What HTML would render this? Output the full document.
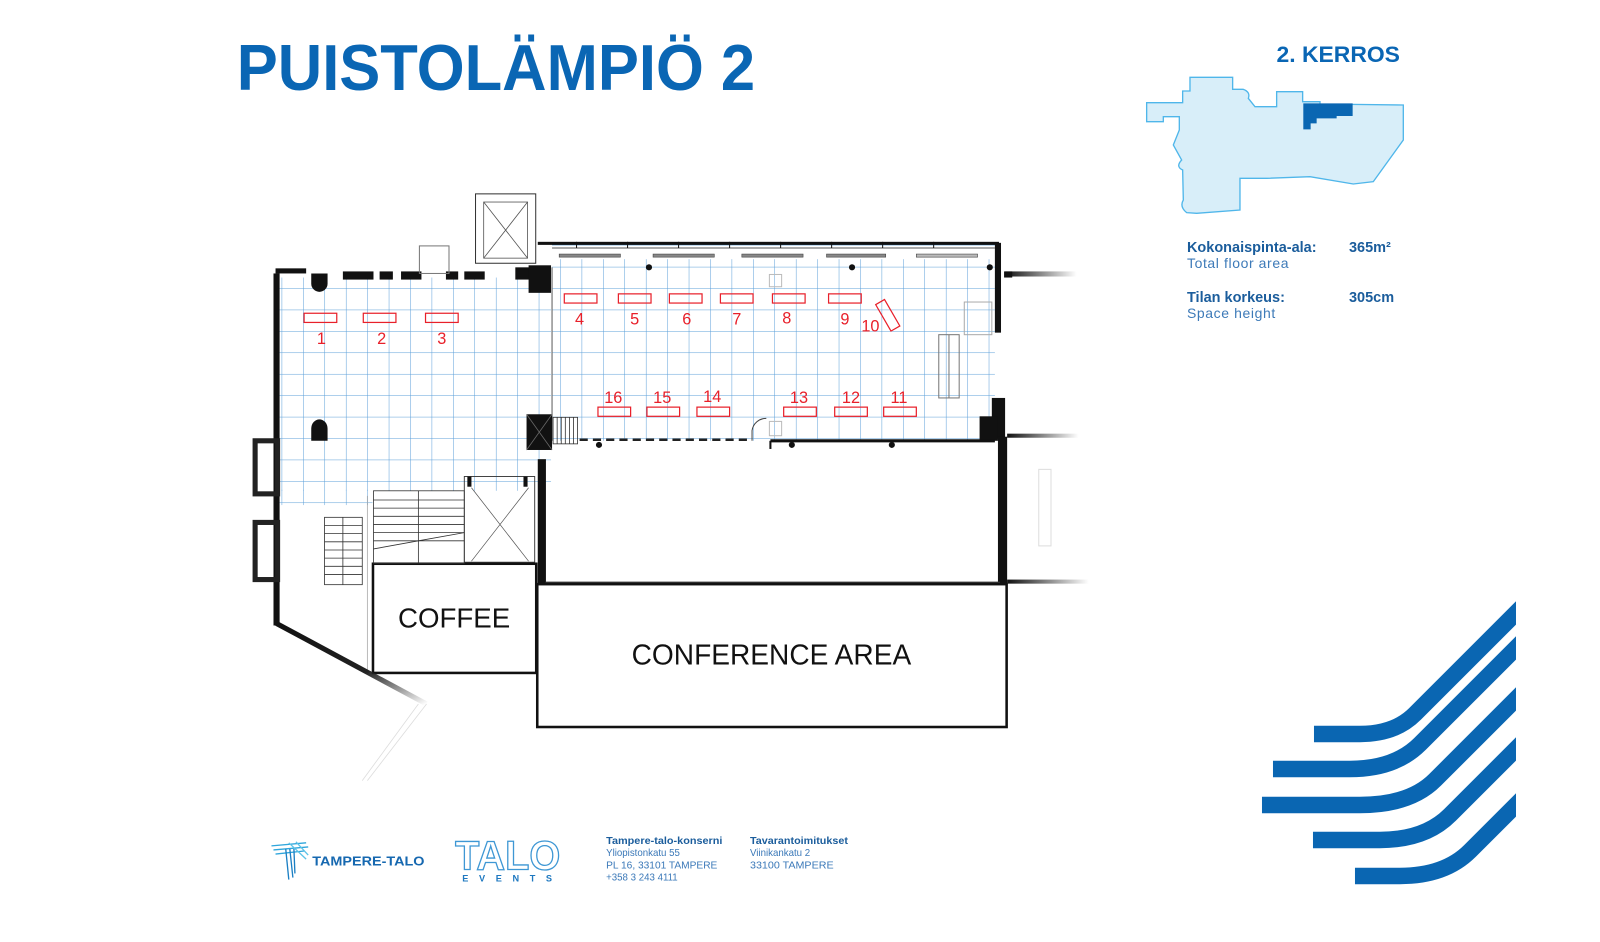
<!DOCTYPE html>
<html><head><meta charset="utf-8"><style>
html,body{margin:0;padding:0;background:#fff;width:1600px;height:942px;overflow:hidden}
svg{display:block}
text{font-family:"Liberation Sans",sans-serif}
</style></head><body>
<svg width="1600" height="942" viewBox="0 0 1568 923.2" xmlns="http://www.w3.org/2000/svg">
<defs>
<pattern id="g" patternUnits="userSpaceOnUse" x="276" y="240.5" width="21" height="21">
<path d="M0 0V21M0 0H21" stroke="#5b9fd8" stroke-width="1" fill="none"/>
</pattern>
<linearGradient id="fr" x1="0" x2="1"><stop offset="0" stop-color="#111"/><stop offset="1" stop-color="#111" stop-opacity="0"/></linearGradient>
<linearGradient id="fd" x1="0" y1="0" x2="1" y2="1"><stop offset="0" stop-color="#111"/><stop offset="0.6" stop-color="#222"/><stop offset="1" stop-color="#222" stop-opacity="0"/></linearGradient>
</defs>

<!-- Title -->
<text x="232" y="88" font-size="64" font-weight="bold" fill="#0a66b4" textLength="508" lengthAdjust="spacingAndGlyphs">PUISTOLÄMPIÖ 2</text>
<text x="1251" y="61" font-size="22" font-weight="bold" fill="#0a66b4" textLength="121" lengthAdjust="spacingAndGlyphs">2. KERROS</text>

<!-- minimap -->
<g transform="scale(0.98) translate(1140,30) scale(0.33333)">
<path d="M20,218 L128,218 L128,183 L150,183 L150,142 L278,142 L278,178 L310,178 Q332,186 325,205 L345,230 L410,230 L410,185 L488,185 L488,215 L540,215 L540,222 L790,225 L790,330 L700,455 L640,462 L510,440 L380,445 L300,445 L300,540 L170,550 L140,548 Q118,530 130,510 L128,420 Q106,410 125,390 L100,345 L118,300 L118,260 L70,260 L70,275 L20,275 Z" fill="#d8eef9" stroke="#4fb6ea" stroke-width="4"/>
<path d="M490,220 L638,220 L638,258 L590,258 L590,265 L530,265 L530,280 L512,280 L512,298 L490,298 Z" fill="#0a66b2"/>
</g>

<g transform="scale(0.98)">
<text x="1187" y="252" font-size="14.5" font-weight="bold" fill="#1b5d9c">Kokonaispinta-ala:</text>
<text x="1349" y="252" font-size="14.5" font-weight="bold" fill="#1b5d9c">365m²</text>
<text x="1187" y="268" font-size="14" fill="#3d7ab8" letter-spacing="0.6">Total floor area</text>
<text x="1187" y="302" font-size="14.5" font-weight="bold" fill="#1b5d9c">Tilan korkeus:</text>
<text x="1349" y="302" font-size="14.5" font-weight="bold" fill="#1b5d9c">305cm</text>
<text x="1187" y="318" font-size="14" fill="#3d7ab8" letter-spacing="0.6">Space height</text>

<!-- stripes -->
<clipPath id="sc"><rect x="1200" y="560" width="316" height="360"/></clipPath>
<g clip-path="url(#sc)" fill="none" stroke="#0a66b2" stroke-width="16.5">
<path d="M1314 734 L1360 734 Q1395 734 1415 714 L1540 589"/>
<path d="M1273 769 L1350 769 Q1395 769 1420 744 L1540 624"/>
<path d="M1262 805 L1360 805 Q1410 805 1435 780 L1540 675"/>
<path d="M1313 840 L1380 840 Q1425 840 1450 815 L1540 725"/>
<path d="M1355 876 L1400 876 Q1445 876 1470 851 L1540 781"/>
</g>
</g>

<!-- grid -->
<rect x="273" y="272" width="267" height="209" fill="url(#g)"/>
<rect x="273" y="480" width="92" height="15" fill="url(#g)"/>
<rect x="541" y="254" width="434" height="178" fill="url(#g)"/>
<line x1="541" y1="240" x2="975" y2="240" stroke="#5b9fd8"/>

<!-- upper walls -->
<g fill="#111">
<rect x="270" y="263" width="30" height="5"/>
<rect x="336" y="266" width="30" height="8"/>
<rect x="372" y="266" width="13" height="8"/>
<rect x="393" y="266" width="20" height="8"/>
<rect x="437" y="266" width="12" height="8"/>
<rect x="455" y="266" width="20" height="8"/>
<rect x="505" y="262" width="25" height="12"/>
<rect x="518" y="260" width="22" height="27"/>
<path d="M305 268 h16 v10 a8 8 0 0 1 -16 0z"/>
<path d="M305 430 v-10 a8 9 0 0 1 16 0 v12 h-16z"/>
</g>
<rect x="411" y="241" width="29" height="27" fill="none" stroke="#777"/>
<rect x="466" y="190" width="59" height="68" fill="none" stroke="#333"/>
<rect x="474" y="198" width="43" height="55" fill="none" stroke="#555" stroke-width="0.8"/>
<path d="M474 198 L517 253 M517 198 L474 253" stroke="#555" stroke-width="0.8"/>

<!-- right room top wall -->
<rect x="527" y="237" width="452" height="3" fill="#111"/>
<line x1="541" y1="243" x2="975" y2="243" stroke="#555"/>
<g stroke="#111">
<line x1="565" y1="237" x2="565" y2="243"/><line x1="615" y1="237" x2="615" y2="243"/><line x1="665" y1="237" x2="665" y2="243"/><line x1="715" y1="237" x2="715" y2="243"/><line x1="765" y1="237" x2="765" y2="243"/><line x1="815" y1="237" x2="815" y2="243"/><line x1="865" y1="237" x2="865" y2="243"/><line x1="915" y1="237" x2="915" y2="243"/>
</g>
<g fill="#888" stroke="#444" stroke-width="0.6">
<rect x="548" y="249" width="60" height="3"/><rect x="640" y="249" width="60" height="3"/><rect x="727" y="249" width="60" height="3"/><rect x="810" y="249" width="58" height="3"/><rect x="898" y="249" width="60" height="3" fill="#bbb"/>
</g>
<line x1="541" y1="262" x2="541" y2="432" stroke="#777" stroke-width="1.2"/>
<g fill="#111">
<circle cx="636" cy="262" r="3"/><circle cx="835" cy="262" r="3"/><circle cx="970" cy="262" r="3"/>
<circle cx="587" cy="436" r="3"/><circle cx="776" cy="436" r="3"/><circle cx="874" cy="436" r="3"/>
</g>
<rect x="754" y="269" width="12" height="12" fill="none" stroke="#bbb"/>
<rect x="754" y="413" width="12" height="14" fill="none" stroke="#bbb"/>

<!-- right walls -->
<g fill="#111">
<rect x="975" y="238" width="6" height="88"/>
<rect x="984" y="266" width="8" height="6"/>
<rect x="972" y="390" width="13" height="40"/>
<rect x="960" y="408" width="18" height="24"/>
<rect x="978" y="428" width="9" height="145"/>
</g>
<rect x="985" y="266" width="70" height="5" fill="url(#fr)"/>
<rect x="987" y="425" width="70" height="4" fill="url(#fr)"/>
<rect x="987" y="568" width="80" height="4" fill="url(#fr)"/>
<rect x="920" y="328" width="20" height="62" fill="none" stroke="#777"/>
<line x1="930" y1="328" x2="930" y2="390" stroke="#777"/>
<rect x="945" y="296" width="27" height="32" fill="none" stroke="#aaa"/>
<rect x="1018" y="460" width="12" height="75" fill="none" stroke="#ddd"/>

<!-- bottom wall right room -->
<line x1="755" y1="432" x2="975" y2="432" stroke="#111" stroke-width="3"/>
<line x1="568" y1="431" x2="735" y2="431" stroke="#222" stroke-width="2.5" stroke-dasharray="8 5"/>
<path d="M737 432 v-10 a14 14 0 0 1 14 -12" fill="none" stroke="#444"/>
<line x1="755" y1="432" x2="755" y2="440" stroke="#111" stroke-width="2"/>
<rect x="516" y="406" width="25" height="35" fill="#111"/>
<path d="M516 406 L541 441 M541 406 L516 441" stroke="#666" stroke-width="0.8"/>
<g stroke="#333" stroke-width="0.8">
<rect x="542" y="409" width="24" height="26" fill="none"/>
<line x1="546" y1="409" x2="546" y2="435"/><line x1="550" y1="409" x2="550" y2="435"/><line x1="554" y1="409" x2="554" y2="435"/><line x1="558" y1="409" x2="558" y2="435"/><line x1="562" y1="409" x2="562" y2="435"/>
</g>

<!-- conference upper -->
<rect x="527" y="450" width="8" height="122" fill="#111"/>
<line x1="535" y1="571" x2="980" y2="571" stroke="#333" stroke-width="2"/>
<!-- conference area -->
<rect x="526.5" y="572.5" width="460" height="140" fill="#fff" stroke="#111" stroke-width="2.5"/>
<text x="756" y="651" font-size="28" fill="#111" text-anchor="middle" textLength="274" lengthAdjust="spacingAndGlyphs">CONFERENCE AREA</text>
<!-- coffee -->
<rect x="365.5" y="552.5" width="160" height="107" fill="#fff" stroke="#111" stroke-width="2.5"/>
<text x="445" y="615" font-size="27" fill="#111" text-anchor="middle" textLength="110" lengthAdjust="spacingAndGlyphs">COFFEE</text>

<!-- lift bottom -->
<rect x="455" y="467" width="69" height="84" fill="none" stroke="#333" stroke-width="0.9"/>
<path d="M462 478 L518 550 M518 478 L462 550" stroke="#555" stroke-width="0.7"/>
<rect x="458" y="467" width="4" height="10" fill="#111"/><rect x="513" y="467" width="4" height="10" fill="#111"/>
<!-- stairs -->
<g stroke="#333" stroke-width="0.8" fill="none">
<rect x="366" y="481" width="89" height="71"/>
<line x1="366" y1="490" x2="455" y2="490"/><line x1="366" y1="498" x2="455" y2="498"/><line x1="366" y1="506" x2="455" y2="506"/><line x1="366" y1="514" x2="455" y2="514"/><line x1="366" y1="522" x2="455" y2="522"/><line x1="366" y1="530" x2="455" y2="530"/>
<line x1="410" y1="481" x2="410" y2="552"/>
<path d="M366 538 L410 530 L455 522" />
<rect x="318" y="507" width="37" height="66"/>
<line x1="318" y1="515" x2="355" y2="515"/><line x1="318" y1="523" x2="355" y2="523"/><line x1="318" y1="531" x2="355" y2="531"/><line x1="318" y1="539" x2="355" y2="539"/><line x1="318" y1="547" x2="355" y2="547"/><line x1="318" y1="555" x2="355" y2="555"/><line x1="318" y1="563" x2="355" y2="563"/>
<line x1="336" y1="507" x2="336" y2="573"/>
<line x1="360" y1="486" x2="360" y2="660" stroke="#aaa"/>
</g>

<!-- left wall -->
<rect x="268" y="268" width="6" height="345" fill="#111"/>
<rect x="250" y="432" width="22" height="52" fill="none" stroke="#222" stroke-width="5"/>
<rect x="250" y="512" width="22" height="56" fill="none" stroke="#222" stroke-width="5"/>
<path d="M271 611 L418 690" stroke="url(#fd)" stroke-width="5" fill="none"/>
<path d="M418 690 L360 765 M410 690 L355 765" stroke="#ddd" stroke-width="0.8" fill="none"/>

<!-- tables -->
<g fill="none" stroke="#e8202a" stroke-width="1.2">
<rect x="298" y="307" width="32" height="9"/><rect x="356" y="307" width="32" height="9"/><rect x="417" y="307" width="32" height="9"/>
<rect x="553" y="288" width="32" height="9"/><rect x="606" y="288" width="32" height="9"/><rect x="656" y="288" width="32" height="9"/><rect x="706" y="288" width="32" height="9"/><rect x="757" y="288" width="32" height="9"/><rect x="812" y="288" width="32" height="9"/>
<rect x="865" y="294" width="10" height="30" transform="rotate(-30 870 309)"/>
<rect x="586" y="399" width="32" height="9"/><rect x="634" y="399" width="32" height="9"/><rect x="683" y="399" width="32" height="9"/><rect x="768" y="399" width="32" height="9"/><rect x="818" y="399" width="32" height="9"/><rect x="866" y="399" width="32" height="9"/>
</g>
<g fill="#e8202a" font-size="16" text-anchor="middle">
<text x="315" y="337">1</text><text x="374" y="337">2</text><text x="433" y="337">3</text>
<text x="568" y="318">4</text><text x="622" y="318">5</text><text x="673" y="318">6</text><text x="722" y="318">7</text><text x="771" y="317">8</text><text x="828" y="318">9</text><text x="853" y="325">10</text>
<text x="601" y="395">16</text><text x="649" y="395">15</text><text x="698" y="394">14</text><text x="783" y="395">13</text><text x="834" y="395">12</text><text x="881" y="395">11</text>
</g>

<!-- footer logos -->
<g stroke-width="1.3" fill="none">
<path d="M266 829 L300 826 M268 833 L302 830 M270 837 L298 834" stroke="#2fa6dc"/>
<path d="M280 832 L283 862 M284 832 L287 860 M288 832 L289 856" stroke="#1a7fc4"/>
<path d="M283 826 L300 842 M290 825 L302 838" stroke="#5cc3e8"/>
</g>
<text x="306" y="848" font-size="12.5" font-weight="bold" fill="#1668b0" textLength="110" lengthAdjust="spacingAndGlyphs">TAMPERE-TALO</text>
<text x="446" y="852" font-size="40" font-weight="bold" fill="none" stroke="#3e97d4" stroke-width="1.3" textLength="103" lengthAdjust="spacingAndGlyphs">TALO</text>
<text x="453" y="864" font-size="9" font-weight="bold" fill="#1e78c0" textLength="88" lengthAdjust="spacing">EVENTS</text>
<g font-size="9.5" fill="#3a78b8">
<text x="594" y="827" font-weight="bold" fill="#1b5d9c" textLength="114" lengthAdjust="spacingAndGlyphs">Tampere-talo-konserni</text>
<text x="594" y="839">Yliopistonkatu 55</text>
<text x="594" y="851" textLength="109" lengthAdjust="spacingAndGlyphs">PL 16, 33101 TAMPERE</text>
<text x="594" y="863">+358 3 243 4111</text>
<text x="735" y="827" font-weight="bold" fill="#1b5d9c" textLength="96" lengthAdjust="spacingAndGlyphs">Tavarantoimitukset</text>
<text x="735" y="839">Viinikankatu 2</text>
<text x="735" y="851" textLength="82" lengthAdjust="spacingAndGlyphs">33100 TAMPERE</text>
</g>
</svg>
</body></html>
